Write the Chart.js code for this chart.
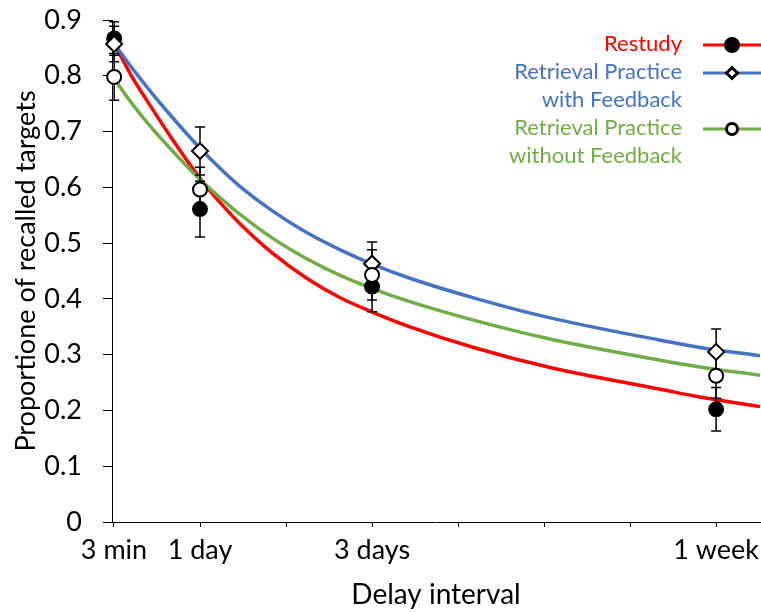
<!DOCTYPE html>
<html>
<head>
<meta charset="utf-8">
<script src="https://cdn.jsdelivr.net/npm/chart.js@4.4.1/dist/chart.umd.min.js"></script>
<style>
  html, body { margin: 0; padding: 0; background: #fff; overflow: hidden; }
</style>
</head>
<body>
<canvas id="recallChart" width="761" height="612"></canvas>
<script>
// Delay in days (3 min = 0.002 days)
const delayDays = [0.002, 1, 3, 7];

const restudyMeans = [0.867, 0.561, 0.422, 0.202];
const restudyErr = [0.030, 0.050, 0.045, 0.039];
const withFbMeans = [0.857, 0.665, 0.463, 0.305];
const withFbErr = [0.032, 0.043, 0.039, 0.041];
const withoutFbMeans = [0.798, 0.596, 0.443, 0.262];
const withoutFbErr = [0.042, 0.040, 0.045, 0.040];

// Fitted curves, sampled off the figure
const curveDays = [0, 0.21, 0.44, 0.67, 1, 1.26, 1.47, 1.85, 2.24, 2.63, 3.01, 3.44, 4.2, 5.07, 6.35, 6.81, 7.51];
const restudyFit = [0.858, 0.798, 0.742, 0.688, 0.616, 0.568, 0.534, 0.481, 0.437, 0.402, 0.376, 0.350, 0.312, 0.277, 0.238, 0.224, 0.207];
const withFbFit = [0.858, 0.814, 0.769, 0.727, 0.670, 0.630, 0.601, 0.557, 0.519, 0.488, 0.462, 0.437, 0.401, 0.366, 0.326, 0.313, 0.298];
const withoutFbFit = [0.795, 0.750, 0.706, 0.667, 0.614, 0.578, 0.551, 0.508, 0.472, 0.442, 0.418, 0.395, 0.361, 0.328, 0.290, 0.278, 0.263];

// Axis ticks
const xTickValues = [0, 1, 2, 3, 4, 5, 6, 7];
const xTickLabels = { 0: '3 min', 1: '1 day', 3: '3 days', 7: '1 week' };
const yTickValues = [0, 0.1, 0.2, 0.3, 0.4, 0.5, 0.6, 0.7, 0.8, 0.9];

const seriesNames = ['Restudy', 'Retrieval Practice with Feedback', 'Retrieval Practice without Feedback'];
const legendLines = [['Restudy'], ['Retrieval Practice', 'with Feedback'], ['Retrieval Practice', 'without Feedback']];

const RED = '#FF0000';
const BLUE = '#4472C4';
const GREEN = '#70AD47';
const FONT = 'Lato, "Open Sans", sans-serif';

const toPoints = (xs, ys) => xs.map((x, i) => ({ x, y: ys[i] }));

const series = [
  { name: seriesNames[0], color: RED, fit: restudyFit, means: restudyMeans, err: restudyErr,
    pointStyle: 'circle', fill: '#000', radius: 7, legendRadius: 6.5 },
  { name: seriesNames[1], color: BLUE, fit: withFbFit, means: withFbMeans, err: withFbErr,
    pointStyle: 'rectRot', fill: '#fff', radius: 8, legendRadius: 5.5 },
  { name: seriesNames[2], color: GREEN, fit: withoutFbFit, means: withoutFbMeans, err: withoutFbErr,
    pointStyle: 'circle', fill: '#fff', radius: 7, legendRadius: 5.5 }
];

const datasets = [];
series.forEach((s, i) => {
  datasets.push({
    label: s.name + ' (fit)',
    data: toPoints(curveDays, s.fit),
    showLine: true,
    borderColor: s.color,
    borderWidth: 3.5,
    pointRadius: 0,
    cubicInterpolationMode: 'monotone',
    order: 10 - i,
    errorBarsAfter: i === series.length - 1
  });
});
series.forEach((s, i) => {
  datasets.push({
    label: s.name,
    data: toPoints(delayDays, s.means),
    showLine: false,
    pointStyle: s.pointStyle,
    pointRadius: s.radius,
    pointHoverRadius: s.radius,
    backgroundColor: s.fill,
    borderColor: '#000',
    borderWidth: 2,
    clip: false,
    order: 3 - i,
    errors: s.err
  });
});

// Vertical error bars with caps, drawn after the fitted curves and before the markers
const errorBarPlugin = {
  id: 'errorBars',
  afterDatasetDraw(chart, args) {
    const ds = chart.data.datasets[args.index];
    if (!ds.errorBarsAfter) return;
    const { ctx, scales: { x, y } } = chart;
    ctx.save();
    ctx.strokeStyle = '#000';
    ctx.lineWidth = 1.5;
    chart.data.datasets.forEach(d => {
      if (!d.errors) return;
      d.data.forEach((p, i) => {
        const px = x.getPixelForValue(p.x);
        const top = y.getPixelForValue(p.y + d.errors[i]);
        const bot = y.getPixelForValue(p.y - d.errors[i]);
        ctx.beginPath();
        ctx.moveTo(px, top); ctx.lineTo(px, bot);
        ctx.moveTo(px - 5, top); ctx.lineTo(px + 5, top);
        ctx.moveTo(px - 5, bot); ctx.lineTo(px + 5, bot);
        ctx.stroke();
      });
    });
    ctx.restore();
  }
};

// X tick labels drawn at the scale's tick positions, so the wide
// "1 week" label can hang past the plot edge like in the original
const xLabelPlugin = {
  id: 'xLabels',
  afterDraw(chart) {
    const { ctx, scales: { x } } = chart;
    ctx.save();
    ctx.font = '27px ' + FONT;
    ctx.fillStyle = '#000';
    ctx.textAlign = 'center';
    ctx.textBaseline = 'middle';
    xTickValues.forEach(v => {
      if (xTickLabels[v]) ctx.fillText(xTickLabels[v], x.getPixelForValue(v), x.top + 28);
    });
    ctx.restore();
  }
};

// Legend on the right: coloured text, line sample with marker
const sideLegendPlugin = {
  id: 'sideLegend',
  afterDraw(chart) {
    const ctx = chart.ctx;
    const textRight = 682;
    const lineX0 = 703, lineX1 = 761, markX = 732;
    const rowY = [45, 73, 129];
    ctx.save();
    ctx.font = '22px ' + FONT;
    ctx.textAlign = 'right';
    ctx.textBaseline = 'middle';
    series.forEach((s, i) => {
      ctx.fillStyle = s.color;
      legendLines[i].forEach((t, j) => ctx.fillText(t, textRight, rowY[i] - 1 + j * 28));
      ctx.strokeStyle = s.color;
      ctx.lineWidth = 3;
      ctx.beginPath();
      ctx.moveTo(lineX0, rowY[i]);
      ctx.lineTo(lineX1, rowY[i]);
      ctx.stroke();
      ctx.fillStyle = s.fill;
      ctx.strokeStyle = '#000';
      Chart.helpers.drawPoint(ctx, { pointStyle: s.pointStyle, radius: s.legendRadius, borderWidth: 2, rotation: 0 }, markX, rowY[i]);
    });
    ctx.restore();
  }
};

new Chart(document.getElementById('recallChart'), {
  type: 'scatter',
  data: { datasets },
  plugins: [errorBarPlugin, xLabelPlugin, sideLegendPlugin],
  options: {
    responsive: false,
    animation: false,
    events: [],
    layout: { autoPadding: false, padding: { top: 20, right: 1, left: 0, bottom: 0 } },
    plugins: { legend: { display: false }, tooltip: { enabled: false } },
    scales: {
      x: {
        type: 'linear',
        min: -0.023,
        max: 7.51,
        afterFit: s => { s.height = 90; },
        afterBuildTicks: s => { s.ticks = xTickValues.map(v => ({ value: v })); },
        ticks: { display: false },
        grid: { display: true, drawOnChartArea: false, drawTicks: true, tickLength: 5, color: '#000' },
        border: { display: true, color: '#000', width: 1 },
        title: {
          display: true,
          text: 'Delay interval',
          color: '#000',
          font: { family: FONT, size: 28 },
          padding: { top: 0, bottom: 0 }
        }
      },
      y: {
        type: 'linear',
        min: 0,
        max: 0.9,
        afterFit: s => { s.width = 112; s.paddingTop = 0; s.paddingBottom = 0; },
        afterBuildTicks: s => { s.ticks = yTickValues.map(v => ({ value: v })); },
        ticks: {
          padding: 21,
          color: '#000',
          font: { family: FONT, size: 27 },
          callback: v => (v === 0 ? '0' : v.toFixed(1))
        },
        grid: { display: true, drawOnChartArea: false, drawTicks: true, tickLength: 9, color: '#000' },
        border: { display: true, color: '#000', width: 1 },
        title: {
          display: true,
          text: 'Proportione of recalled targets',
          color: '#000',
          font: { family: FONT, size: 27 },
          padding: { top: 10, bottom: 0 }
        }
      }
    }
  }
});
</script>
</body>
</html>
